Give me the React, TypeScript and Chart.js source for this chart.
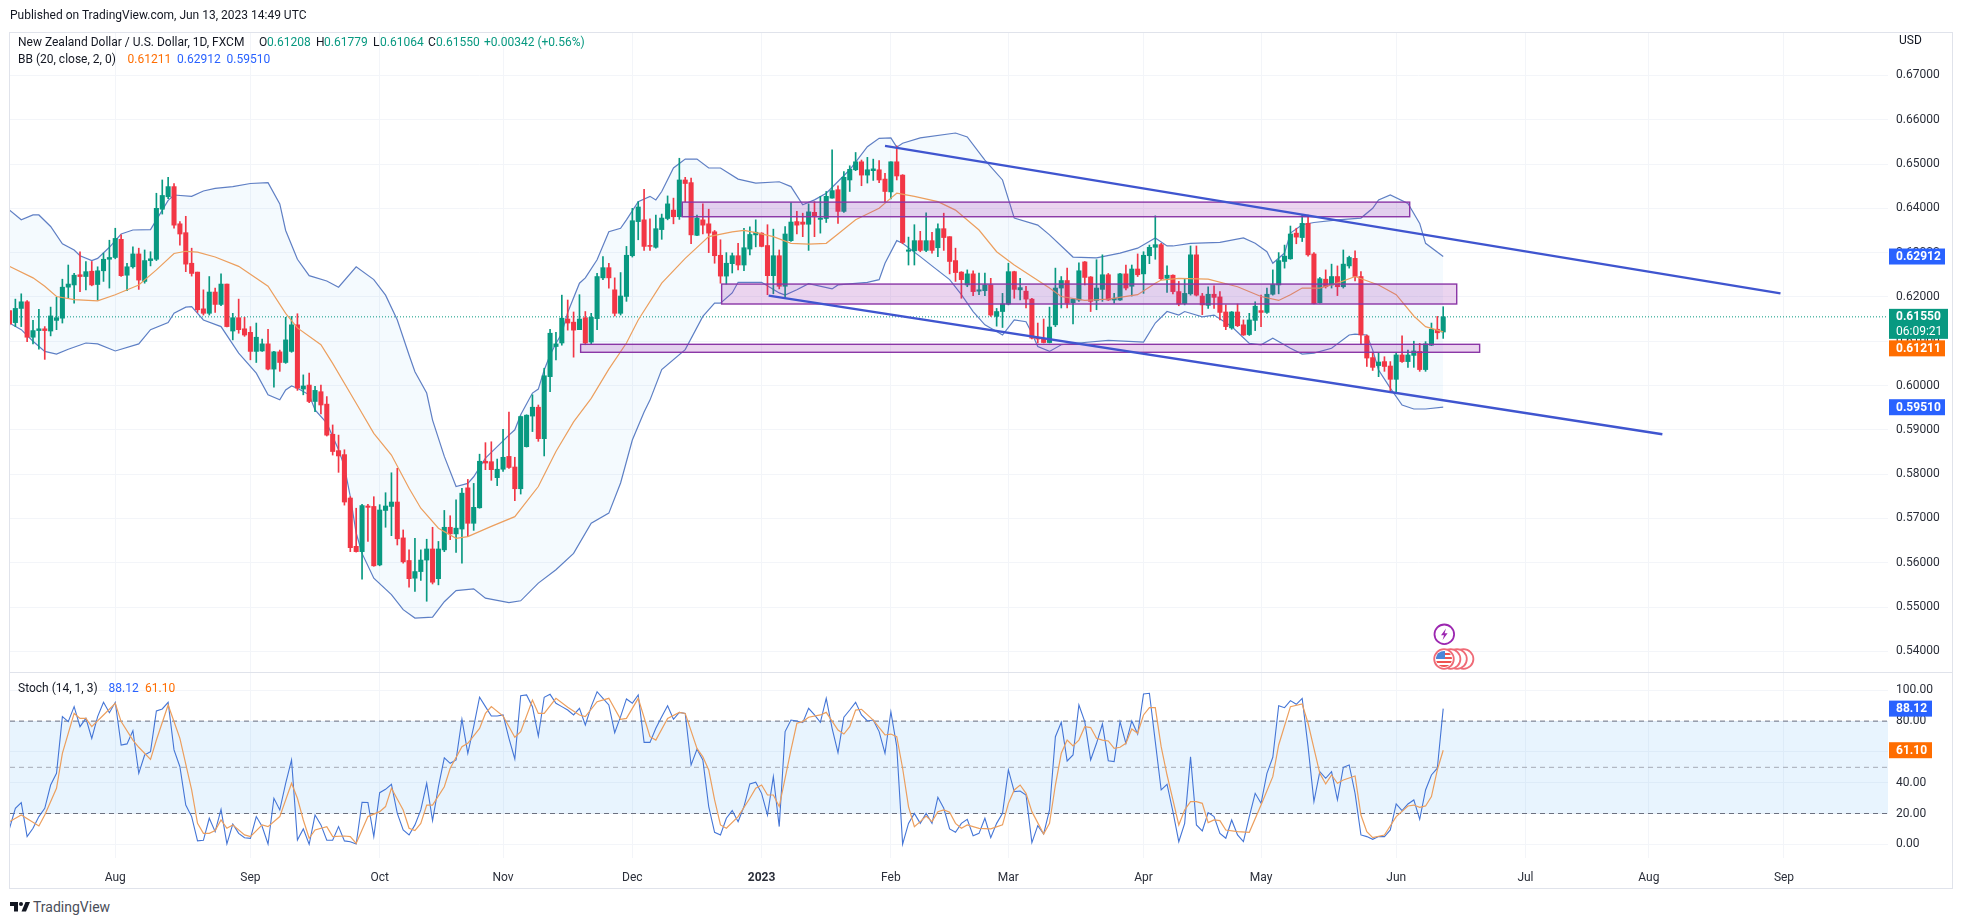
import React, { useEffect, useRef } from "react";
import { Chart, registerables } from "chart.js";

Chart.register(...registerables);

// ---------- price data (one bar per trading day, index 0 = Jul 2022, last = Jun 13 2023)
const opens = [
  0.6169,0.6142,0.6174,0.6189,0.6109,0.6124,0.6128,0.6123,0.6147,0.6152,
  0.6222,0.6227,0.6250,0.6246,0.6258,0.6228,0.6259,0.6285,0.6289,0.6330,
  0.6249,0.6268,0.6297,0.6235,0.6282,0.6285,0.6398,0.6426,0.6449,0.6365,
  0.6345,0.6276,0.6256,0.6173,0.6163,0.6211,0.6183,0.6229,0.6123,0.6153,
  0.6128,0.6120,0.6077,0.6078,0.6094,0.6037,0.6076,0.6052,0.6077,0.6137,
  0.5992,0.6001,0.5964,0.5986,0.5958,0.5890,0.5853,0.5844,0.5746,0.5637,
  0.5625,0.5728,0.5727,0.5595,0.5718,0.5727,0.5737,0.5656,0.5605,0.5565,
  0.5580,0.5606,0.5631,0.5564,0.5629,0.5680,0.5665,0.5676,0.5769,0.5689,
  0.5724,0.5829,0.5828,0.5792,0.5811,0.5840,0.5816,0.5767,0.5862,0.5931,
  0.5951,0.5880,0.6020,0.6088,0.6096,0.6150,0.6143,0.6126,0.6153,0.6098,
  0.6151,0.6243,0.6266,0.6216,0.6163,0.6201,0.6293,0.6370,0.6374,0.6316,
  0.6312,0.6352,0.6377,0.6396,0.6381,0.6464,0.6458,0.6339,0.6374,0.6365,
  0.6347,0.6294,0.6247,0.6275,0.6293,0.6272,0.6308,0.6340,0.6344,0.6316,
  0.6248,0.6293,0.6224,0.6327,0.6370,0.6369,0.6364,0.6391,0.6375,0.6377,
  0.6423,0.6442,0.6393,0.6464,0.6487,0.6505,0.6475,0.6485,0.6487,0.6466,
  0.6437,0.6505,0.6475,0.6303,0.6304,0.6327,0.6305,0.6327,0.6311,0.6354,
  0.6336,0.6282,0.6256,0.6227,0.6252,0.6213,0.6214,0.6227,0.6156,0.6167,
  0.6184,0.6257,0.6216,0.6213,0.6195,0.6107,0.6106,0.6097,0.6137,0.6220,
  0.6237,0.6187,0.6193,0.6279,0.6245,0.6192,0.6217,0.6250,0.6193,0.6193,
  0.6252,0.6224,0.6263,0.6252,0.6293,0.6312,0.6318,0.6242,0.6249,0.6212,
  0.6185,0.6207,0.6295,0.6202,0.6181,0.6206,0.6200,0.6166,0.6130,0.6166,
  0.6137,0.6115,0.6147,0.6169,0.6165,0.6206,0.6227,0.6280,0.6286,0.6344,
  0.6334,0.6366,0.6297,0.6187,0.6240,0.6227,0.6246,0.6223,0.6270,0.6287,
  0.6246,0.6112,0.6063,0.6045,0.6054,0.6044,0.6014,0.6069,0.6054,0.6068,
  0.6077,0.6036,0.6091,0.6127,0.61208,
];
const highs = [
  0.6169,0.6195,0.6207,0.6192,0.6147,0.6172,0.6133,0.6177,0.6199,0.6240,
  0.6272,0.6253,0.6302,0.6280,0.6280,0.6268,0.6299,0.6328,0.6355,0.6340,
  0.6276,0.6313,0.6310,0.6306,0.6302,0.6434,0.6464,0.6470,0.6456,0.6370,
  0.6382,0.6310,0.6256,0.6216,0.6246,0.6220,0.6252,0.6229,0.6163,0.6195,
  0.6154,0.6133,0.6141,0.6105,0.6127,0.6077,0.6080,0.6154,0.6156,0.6162,
  0.6024,0.6028,0.5998,0.6001,0.5975,0.5911,0.5888,0.5855,0.5749,0.5723,
  0.5732,0.5732,0.5749,0.5731,0.5758,0.5803,0.5813,0.5674,0.5629,0.5655,
  0.5629,0.5653,0.5680,0.5648,0.5718,0.5706,0.5742,0.5768,0.5788,0.5779,
  0.5845,0.5871,0.5873,0.5834,0.5901,0.5940,0.5838,0.5931,0.5934,0.5979,
  0.5956,0.6039,0.6127,0.6120,0.6204,0.6193,0.6166,0.6205,0.6167,0.6163,
  0.6253,0.6291,0.6276,0.6243,0.6255,0.6314,0.6400,0.6415,0.6443,0.6376,
  0.6385,0.6387,0.6428,0.6423,0.6513,0.6470,0.6468,0.6385,0.6410,0.6398,
  0.6350,0.6329,0.6300,0.6299,0.6321,0.6355,0.6358,0.6374,0.6345,0.6363,
  0.6353,0.6306,0.6359,0.6413,0.6393,0.6389,0.6410,0.6415,0.6427,0.6438,
  0.6532,0.6451,0.6483,0.6496,0.6526,0.6509,0.6515,0.6511,0.6508,0.6479,
  0.6505,0.6541,0.6476,0.6335,0.6363,0.6348,0.6390,0.6346,0.6365,0.6389,
  0.6336,0.6310,0.6257,0.6261,0.6259,0.6254,0.6254,0.6242,0.6174,0.6208,
  0.6276,0.6258,0.6242,0.6224,0.6197,0.6141,0.6150,0.6177,0.6265,0.6246,
  0.6265,0.6197,0.6277,0.6280,0.6246,0.6284,0.6295,0.6253,0.6208,0.6253,
  0.6272,0.6272,0.6297,0.6302,0.6317,0.6383,0.6321,0.6270,0.6250,0.6235,
  0.6242,0.6315,0.6315,0.6208,0.6223,0.6225,0.6212,0.6182,0.6167,0.6184,
  0.6148,0.6163,0.6189,0.6204,0.6220,0.6261,0.6300,0.6317,0.6360,0.6355,
  0.6385,0.6385,0.6300,0.6244,0.6261,0.6274,0.6270,0.6306,0.6292,0.6304,
  0.6257,0.6114,0.6073,0.6073,0.6065,0.6054,0.6074,0.6112,0.6080,0.6100,
  0.6095,0.6099,0.6141,0.6156,0.61779,
];
const lows = [
  0.6137,0.6133,0.6133,0.6099,0.6094,0.6082,0.6059,0.6112,0.6126,0.6141,
  0.6197,0.6186,0.6212,0.6216,0.6225,0.6193,0.6235,0.6220,0.6286,0.6246,
  0.6214,0.6265,0.6217,0.6231,0.6270,0.6282,0.6387,0.6422,0.6355,0.6317,
  0.6257,0.6247,0.6165,0.6159,0.6159,0.6165,0.6180,0.6132,0.6103,0.6118,
  0.6111,0.6058,0.6052,0.6077,0.6035,0.5996,0.6032,0.6050,0.6075,0.5989,
  0.5979,0.5961,0.5941,0.5936,0.5886,0.5843,0.5804,0.5730,0.5625,0.5624,
  0.5563,0.5648,0.5592,0.5593,0.5680,0.5661,0.5640,0.5599,0.5545,0.5535,
  0.5560,0.5513,0.5552,0.5550,0.5625,0.5652,0.5623,0.5599,0.5659,0.5673,
  0.5723,0.5810,0.5786,0.5774,0.5806,0.5813,0.5740,0.5755,0.5861,0.5896,
  0.5874,0.5841,0.5986,0.6058,0.6091,0.6125,0.6064,0.6126,0.6092,0.6094,
  0.6126,0.6239,0.6220,0.6157,0.6159,0.6190,0.6290,0.6329,0.6305,0.6305,
  0.6310,0.6330,0.6374,0.6365,0.6375,0.6415,0.6320,0.6338,0.6342,0.6300,
  0.6276,0.6231,0.6229,0.6254,0.6261,0.6259,0.6295,0.6313,0.6313,0.6205,
  0.6207,0.6218,0.6199,0.6325,0.6342,0.6336,0.6305,0.6336,0.6344,0.6368,
  0.6423,0.6366,0.6391,0.6438,0.6485,0.6451,0.6457,0.6463,0.6458,0.6415,
  0.6421,0.6464,0.6320,0.6272,0.6272,0.6302,0.6302,0.6299,0.6291,0.6305,
  0.6252,0.6235,0.6197,0.6223,0.6203,0.6205,0.6203,0.6156,0.6134,0.6131,
  0.6182,0.6197,0.6193,0.6175,0.6105,0.6096,0.6096,0.6096,0.6133,0.6175,
  0.6175,0.6139,0.6190,0.6227,0.6167,0.6171,0.6190,0.6192,0.6186,0.6192,
  0.6216,0.6202,0.6246,0.6208,0.6275,0.6285,0.6239,0.6210,0.6207,0.6180,
  0.6182,0.6204,0.6202,0.6160,0.6174,0.6174,0.6148,0.6126,0.6127,0.6133,
  0.6113,0.6113,0.6124,0.6133,0.6163,0.6204,0.6207,0.6265,0.6285,0.6320,
  0.6325,0.6292,0.6184,0.6186,0.6220,0.6220,0.6203,0.6220,0.6265,0.6236,
  0.6094,0.6043,0.6034,0.6020,0.6032,0.5986,0.5986,0.6052,0.6041,0.6041,
  0.6032,0.6032,0.6090,0.6105,0.61064,
];
const closes = [
  0.6139,0.6174,0.6189,0.6109,0.6124,0.6128,0.6124,0.6157,0.6153,0.6222,
  0.6229,0.6249,0.6246,0.6257,0.6227,0.6259,0.6285,0.6289,0.6332,0.6248,
  0.6268,0.6297,0.6238,0.6282,0.6286,0.6400,0.6429,0.6449,0.6362,0.6342,
  0.6274,0.6253,0.6171,0.6163,0.6211,0.6183,0.6229,0.6133,0.6153,0.6126,
  0.6114,0.6077,0.6109,0.6094,0.6037,0.6076,0.6052,0.6103,0.6137,0.5994,
  0.5999,0.5964,0.5989,0.5956,0.5888,0.5851,0.5841,0.5737,0.5634,0.5625,
  0.5729,0.5725,0.5593,0.5719,0.5728,0.5737,0.5654,0.5602,0.5564,0.5580,
  0.5606,0.5631,0.5556,0.5631,0.5680,0.5665,0.5678,0.5757,0.5689,0.5725,
  0.5829,0.5825,0.5810,0.5811,0.5838,0.5815,0.5767,0.5930,0.5933,0.5951,
  0.5880,0.6022,0.6118,0.6094,0.6152,0.6141,0.6125,0.6150,0.6096,0.6154,
  0.6246,0.6266,0.6243,0.6163,0.6202,0.6294,0.6372,0.6403,0.6314,0.6314,
  0.6354,0.6378,0.6410,0.6381,0.6464,0.6456,0.6340,0.6378,0.6362,0.6344,
  0.6293,0.6247,0.6276,0.6293,0.6272,0.6311,0.6341,0.6346,0.6314,0.6248,
  0.6293,0.6224,0.6342,0.6369,0.6362,0.6364,0.6392,0.6381,0.6378,0.6427,
  0.6440,0.6393,0.6470,0.6488,0.6505,0.6475,0.6487,0.6489,0.6464,0.6438,
  0.6505,0.6473,0.6323,0.6306,0.6327,0.6305,0.6327,0.6305,0.6354,0.6334,
  0.6280,0.6255,0.6239,0.6252,0.6212,0.6216,0.6227,0.6159,0.6167,0.6184,
  0.6257,0.6217,0.6221,0.6195,0.6107,0.6105,0.6097,0.6132,0.6220,0.6237,
  0.6186,0.6195,0.6259,0.6244,0.6190,0.6220,0.6250,0.6193,0.6197,0.6252,
  0.6220,0.6263,0.6250,0.6294,0.6312,0.6318,0.6241,0.6249,0.6212,0.6184,
  0.6208,0.6295,0.6204,0.6182,0.6206,0.6199,0.6165,0.6133,0.6166,0.6135,
  0.6114,0.6148,0.6179,0.6165,0.6206,0.6228,0.6282,0.6292,0.6342,0.6335,
  0.6366,0.6295,0.6185,0.6241,0.6223,0.6246,0.6223,0.6274,0.6289,0.6246,
  0.6114,0.6062,0.6041,0.6053,0.6043,0.6014,0.6069,0.6054,0.6069,0.6078,
  0.6036,0.6094,0.6127,0.6119,0.61550,
];

// ---------- Bollinger Bands: [bar index, value]
const bbUpper = [
  [0,.6396],[2,.6374],[4,.6385],[5,.6385],[7,.6359],[9,.6320],[11,.6306],[12,.6293],[14,.6282],[15,.6287],
  [17,.6312],[19,.6342],[21,.6351],[24,.6352],[25,.6374],[26,.6396],[27,.6418],[28,.6430],[31,.6427],[33,.6439],
  [35,.6445],[38,.6449],[41,.6456],[44,.6458],[46,.6410],[47,.6350],[49,.6285],[51,.6248],[54,.6236],[56,.6222],
  [59,.6268],[62,.6239],[64,.6204],[66,.6148],[68,.6069],[69,.6031],[71,.5983],[72,.5922],[74,.5840],[76,.5772],
  [78,.5779],[79,.5794],[81,.5836],[83,.5862],[85,.5888],[86,.5900],[87,.5934],[89,.5983],[90,.5992],[91,.6035],
  [92,.6069],[93,.6095],[94,.6118],[95,.6165],[97,.6231],[98,.6243],[100,.6284],[102,.6347],[104,.6355],[105,.6374],
  [107,.6415],[109,.6427],[110,.6419],[111,.6438],[113,.6491],[115,.6511],[117,.6511],[119,.6491],[121,.6491],[124,.6466],
  [127,.6457],[131,.6460],[133,.6449],[135,.6408],[137,.6419],[139,.6434],[143,.6487],[146,.6539],[148,.6558],[150,.6559],
  [151,.6538],[152,.6547],[155,.6559],[161,.6570],[163,.6561],[166,.6509],[169,.6464],[171,.6378],[175,.6362],[177,.6340],
  [181,.6290],[185,.6288],[189,.6299],[192,.6310],[195,.6333],[197,.6315],[198,.6315],[201,.6321],[206,.6323],[210,.6333],
  [212,.6321],[214,.6302],[215,.6276],[217,.6299],[218,.6344],[220,.6363],[222,.6368],[226,.6374],[230,.6378],[232,.6400],
  [233,.6419],[235,.6430],[238,.6411],[240,.6366],[241,.6321],[244,.62912],
];
const bbBasis = [
  [0,.6269],[4,.6243],[6,.6224],[8,.6201],[11,.6194],[15,.6191],[18,.6205],[22,.6227],[25,.6261],[28,.6298],
  [30,.6303],[32,.6301],[35,.6290],[39,.6269],[44,.6224],[47,.6163],[49,.6130],[53,.6092],[55,.6050],[59,.5960],
  [62,.5892],[65,.5843],[68,.5768],[70,.5723],[73,.5678],[76,.5655],[78,.5659],[82,.5682],[86,.5704],[90,.5772],
  [93,.5851],[96,.5918],[99,.5971],[102,.6037],[105,.6096],[107,.6148],[111,.6231],[115,.6287],[119,.6336],[123,.6347],
  [125,.6350],[127,.6345],[130,.6336],[133,.6321],[136,.6319],[139,.6321],[141,.6342],[144,.6374],[148,.6400],[150,.6423],
  [151,.6434],[154,.6427],[158,.6415],[161,.6396],[165,.6351],[168,.6302],[171,.6272],[174,.6246],[177,.6220],[179,.6201],
  [183,.6192],[187,.6195],[192,.6205],[195,.6231],[196,.6238],[199,.6242],[204,.6240],[209,.6223],[213,.6201],[216,.6192],
  [218,.6205],[220,.6220],[223,.6220],[226,.6231],[229,.6246],[233,.6227],[236,.6205],[239,.6157],[241,.6133],[244,.61211],
];
const bbLower = [
  [0,.6141],[2,.6126],[4,.6100],[6,.6077],[8,.6071],[10,.6082],[13,.6096],[15,.6094],[18,.6078],[22,.6094],
  [24,.6126],[27,.6142],[28,.6163],[30,.6177],[31,.6178],[33,.6148],[36,.6133],[39,.6073],[42,.6028],[44,.5979],
  [46,.5968],[47,.5990],[48,.5999],[49,.5994],[51,.5979],[52,.5945],[54,.5915],[56,.5855],[57,.5817],[58,.5749],
  [59,.5667],[60,.5621],[62,.5565],[65,.5528],[67,.5494],[69,.5475],[72,.5477],[74,.5512],[76,.5537],[79,.5541],
  [81,.5520],[85,.5510],[87,.5514],[90,.5554],[93,.5584],[96,.5621],[99,.5689],[102,.5712],[104,.5780],[106,.5877],
  [108,.5940],[109,.5967],[111,.6036],[115,.6081],[118,.6156],[120,.6186],[121,.6186],[123,.6209],[124,.6233],[128,.6233],
  [131,.6209],[132,.6204],[134,.6216],[136,.6230],[140,.6218],[141,.6227],[146,.6233],[148,.6239],[149,.6276],[151,.6327],
  [152,.6321],[155,.6291],[157,.6270],[160,.6239],[162,.6205],[164,.6167],[166,.6137],[168,.6122],[169,.6114],[171,.6148],
  [173,.6144],[174,.6118],[175,.6088],[177,.6077],[179,.6092],[182,.6096],[187,.6102],[193,.6098],[195,.6141],[197,.6167],
  [199,.6159],[200,.6167],[203,.6155],[205,.6159],[208,.6133],[211,.6095],[213,.6092],[215,.6107],[218,.6084],[220,.6071],
  [222,.6073],[225,.6084],[228,.6114],[229,.6116],[231,.6114],[232,.6080],[233,.6035],[235,.5994],[237,.5956],[239,.5947],
  [241,.5947],[244,.59510],
];

// ---------- Stochastic
const stochK = [
  10.4,23.4,27.1,5.0,10.4,18.0,23.4,38.5,46.1,82.9,79.7,89.4,76.4,81.8,68.8,82.9,92.2,85.5,92.2,64.5,
  65.2,73.8,46.1,58.0,60.2,86.6,87.9,92.2,61.3,50.4,25.5,18.0,2.2,2.6,16.9,8.2,22.7,0.3,13.2,7.1,
  4.3,3.9,18.0,11.5,0.2,29.9,22.3,39.6,54.8,2.8,10.0,0.0,19.0,12.6,2.6,2.6,11.5,2.2,1.7,0.2,
  27.3,27.1,5.0,33.5,35.7,39.0,20.1,9.3,6.1,12.6,22.3,39.6,15.4,37.4,56.1,52.6,54.8,81.2,59.1,76.4,
  95.5,89.4,83.3,83.3,84.0,68.8,55.4,96.5,97.0,89.4,70.3,95.5,97.4,91.6,89.4,87.2,84.0,88.3,77.5,89.4,
  99.1,94.8,90.5,72.5,82.9,94.4,91.6,97.0,66.2,66.2,75.3,82.9,90.0,81.2,85.7,85.0,51.5,61.7,54.8,24.5,
  7.8,6.1,16.9,21.9,14.7,24.5,39.2,40.3,33.1,19.0,43.9,11.5,73.2,80.7,80.1,79.0,88.3,84.0,79.2,94.8,
  75.3,59.5,82.5,87.2,92.2,84.0,80.1,80.7,73.2,59.1,86.1,63.4,0.1,13.6,20.1,13.6,20.1,13.6,30.5,23.4,
  10.0,7.8,13.6,16.2,5.6,7.1,16.9,4.3,13.6,20.1,48.3,34.2,34.6,32.0,1.1,12.1,6.7,22.3,69.9,79.2,
  54.1,58.0,90.5,79.7,54.8,65.6,78.1,54.3,53.7,79.7,65.6,80.1,71.6,97.6,98.1,66.7,35.3,39.0,21.2,1.7,
  13.6,56.9,12.6,8.7,20.6,18.0,7.1,3.9,15.8,6.1,1.7,18.0,33.1,26.6,46.1,56.5,90.0,88.7,93.3,90.9,
  94.8,63.4,27.7,47.2,42.9,47.2,28.8,50.0,51.5,33.1,6.1,5.0,3.2,5.0,5.0,9.3,26.2,21.9,26.2,28.8,
  16.2,35.3,45.0,49.4,88.12,
];
const stochD = [
  [0,14.7],[2,19],[5,11.9],[6,19],[8,36.4],[9,59.1],[11,85],[12,81.8],[13,81.8],[14,76.4],[16,84],[18,91.6],[19,79.7],
  [21,67.7],[22,63],[24,55.2],[25,67.7],[27,90.5],[29,68.8],[31,35.3],[32,13.6],[33,7.1],[34,7.1],[35,8.9],[36,15.8],
  [37,10.4],[38,12.6],[40,6.1],[41,5],[43,12.6],[44,11.5],[46,18],[48,39.6],[49,29.9],[50,15.8],[51,3.9],[52,9.3],
  [54,11.5],[55,5],[57,5.4],[58,5],[59,0.6],[61,18],[63,21.2],[64,24.5],[65,36.4],[67,22.3],[68,10.4],[69,8.9],[70,13.6],
  [71,25.5],[72,25.5],[74,37.4],[75,49.4],[77,63.4],[78,65.6],[80,75.3],[81,85],[82,89.4],[84,83.3],[86,69.5],[87,73.2],
  [89,93.7],[90,85],[91,85],[93,94.8],[95,89],[97,84],[98,82.9],[100,92.6],[102,94.8],[104,81.2],[105,81.8],[107,94.8],
  [109,69.9],[110,67.7],[112,81.8],[114,85.7],[115,85],[117,62.3],[118,56.9],[119,48.3],[120,28.8],[121,12.6],[122,10.4],
  [124,18],[126,29.9],[127,36.4],[128,38.5],[129,32],[130,32],[131,24.5],[133,61.3],[134,78.6],[135,79.7],[136,82.5],
  [138,84],[139,85.7],[141,74.2],[142,71.6],[143,76.4],[144,87.2],[145,87.7],[147,80.7],[149,71],[150,71.6],[151,69.9],
  [152,49.4],[153,24.5],[154,11.5],[155,14.7],[156,18.4],[157,14.7],[158,21.2],[159,22.3],[160,20.8],[161,13.6],[162,10.4],
  [163,12.6],[165,10.4],[167,10],[169,12.6],[170,26.6],[171,35.3],[172,38.5],[173,33.1],[174,21.2],[176,6.7],[177,13.6],
  [178,38.5],[179,59.1],[180,67.7],[181,63.9],[182,67.7],[183,76.4],[184,75.8],[185,68.8],[186,67.7],[187,67.1],[188,62.3],
  [189,63],[190,65.6],[191,74.9],[192,72.1],[193,84],[194,88.7],[195,88.7],[196,63.4],[197,45],[198,28.8],[199,12.6],
  [200,22.3],[201,27.7],[202,27.7],[203,26.6],[204,14.1],[205,15.8],[206,15.4],[207,9.3],[209,8.2],[211,7.8],[213,25.5],
  [215,43.9],[216,64.5],[218,89.4],[220,91.1],[221,78.6],[222,62.3],[223,46.1],[224,39.2],[225,45],[226,39.6],[227,41.8],
  [229,44.4],[230,19],[231,8.2],[232,4.3],[234,6],[236,18],[238,24.9],[239,25.5],[240,24],[241,24.9],[242,31],[243,48.3],[244,61.1],
];

// ---------- drawings: [startBar, endBar, price(s)]
const zoneA = { from: 114.5, to: 238.3, top: 0.6414, bottom: 0.6381 };
const zoneB = { from: 121.2, to: 246.3, top: 0.6229, bottom: 0.6184 };
const zoneC = { from: 97.2, to: 250.2, top: 0.6093, bottom: 0.6075 };
const zones = [zoneA, zoneB, zoneC];
const trendUpper = [[149, 0.6541], [301.4, 0.6208]];
const trendLower = [[129.2, 0.6203], [281.3, 0.5890]];

// ---------- axes
const priceTicks = [0.54,0.55,0.56,0.57,0.58,0.59,0.6,0.61,0.62,0.63,0.64,0.65,0.66,0.67];
const stochTicks = [0,20,40,60,80,100];
const monthBars = [18,41,63,84,106,128,150,170,193,213,236,258,279,302];
const monthNames = ["Aug","Sep","Oct","Nov","Dec","2023","Feb","Mar","Apr","May","Jun","Jul","Aug","Sep"];
const stochLevels = { upper: 80, middle: 50, lower: 20 };

const X_MIN = 0.085;
const X_MAX = 319.7;
const UP = "#089981";
const DOWN = "#f23645";
const FONT = "Roboto";
const GRID = "#f3f5f9";
const TICK_COLOR = "#2a2e39";
const BB_LINE = "#5f7fc4";
const MID_LINE = "#ec9f5e";

const lastClose = closes[closes.length - 1];
const pairs = (list: number[][]) => list.map(([x, y]) => ({ x, y }));

const grid = { color: GRID, drawTicks: false, lineWidth: 1 };

function xScale(showLabels: boolean) {
  return {
    type: "linear",
    min: X_MIN,
    max: X_MAX,
    offset: false,
    grid: { ...grid, offset: false },
    border: { display: false },
    afterBuildTicks: (s: any) => {
      s.ticks = monthBars.map((value) => ({ value }));
    },
    afterFit: (s: any) => {
      s.height = showLabels ? 30 : 0;
      s.paddingLeft = 0;
      s.paddingRight = 0;
    },
    ticks: {
      display: showLabels,
      autoSkip: false,
      maxRotation: 0,
      padding: 13,
      color: TICK_COLOR,
      font: (c: any) => ({
        family: FONT,
        size: 12,
        weight: c.tick && monthNames[monthBars.indexOf(c.tick.value)] === "2023" ? "bold" : "normal",
      }),
      callback: (v: number) => monthNames[monthBars.indexOf(v)] ?? "",
    },
  };
}

function yScale(min: number, max: number, tickList: number[], digits: number) {
  return {
    position: "right",
    min,
    max,
    grid,
    border: { display: false },
    afterBuildTicks: (s: any) => {
      s.ticks = tickList.map((value) => ({ value }));
    },
    afterFit: (s: any) => {
      s.width = 64;
      s.paddingTop = 0;
      s.paddingBottom = 0;
    },
    ticks: {
      autoSkip: false,
      padding: 8,
      color: TICK_COLOR,
      font: { family: FONT, size: 12 },
      callback: (v: number) => Number(v).toFixed(digits),
    },
  };
}

function tag(ctx: any, scale: any, value: number, text: string, bg: string, w: number, sub?: string, shift = 0) {
  const y = scale.getPixelForValue(value) + shift;
  const left = scale.left + 1;
  ctx.save();
  ctx.fillStyle = bg;
  ctx.fillRect(left, y - 8, w, sub ? 30 : 16);
  ctx.fillStyle = "#ffffff";
  ctx.font = `bold 12px ${FONT}`;
  ctx.textBaseline = "middle";
  ctx.textAlign = "left";
  ctx.fillText(text, left + 7, y + 0.5);
  if (sub) {
    ctx.font = `12px ${FONT}`;
    ctx.fillText(sub, left + 7, y + 15);
  }
  ctx.restore();
}

const zonePlugin = {
  id: "zones",
  beforeDatasetDraw(chart: any, args: any) {
    if (chart.data.datasets[args.index].label !== "trend lower") return;
    const { ctx, scales } = chart;
    ctx.save();
    for (const z of zones) {
      const l = scales.x.getPixelForValue(z.from);
      const r = scales.x.getPixelForValue(z.to);
      const t = scales.y.getPixelForValue(z.top);
      const b = scales.y.getPixelForValue(z.bottom);
      ctx.fillStyle = "rgba(156,39,176,0.2)";
      ctx.fillRect(l, t, r - l, b - t);
      ctx.strokeStyle = "#8a36a6";
      ctx.lineWidth = 1.4;
      ctx.strokeRect(l, t, r - l, b - t);
    }
    ctx.restore();
  },
};

const priceTagPlugin = {
  id: "priceTags",
  afterDraw(chart: any) {
    const { ctx, scales } = chart;
    tag(ctx, scales.y, bbUpper[bbUpper.length - 1][1], "0.62912", "#2962ff", 56);
    tag(ctx, scales.y, bbLower[bbLower.length - 1][1], "0.59510", "#2962ff", 56);
    tag(ctx, scales.y, lastClose, "0.61550", UP, 59, "06:09:21");
    // the orange tag is pushed below the two-line green one, as TradingView does
    tag(ctx, scales.y, lastClose, "0.61211", "#ff6d00", 56, undefined, 31.5);
  },
};

const stochPlugin = {
  id: "stochBand",
  beforeDatasetsDraw(chart: any) {
    const { ctx, chartArea: a, scales } = chart;
    const top = scales.y.getPixelForValue(stochLevels.upper);
    const mid = scales.y.getPixelForValue(stochLevels.middle);
    const bottom = scales.y.getPixelForValue(stochLevels.lower);
    ctx.save();
    ctx.fillStyle = "rgba(33,150,243,0.1)";
    ctx.fillRect(a.left, top, a.right - a.left, bottom - top);
    ctx.lineWidth = 1;
    ctx.setLineDash([5, 4]);
    for (const [y, color] of [[top, "#6b7080"], [mid, "#a6a9b4"], [bottom, "#6b7080"]] as any) {
      ctx.strokeStyle = color;
      ctx.beginPath();
      ctx.moveTo(a.left, y);
      ctx.lineTo(a.right, y);
      ctx.stroke();
    }
    ctx.restore();
  },
  afterDraw(chart: any) {
    const { ctx, scales } = chart;
    tag(ctx, scales.y, stochK[stochK.length - 1], "88.12", "#2962ff", 43);
    tag(ctx, scales.y, stochD[stochD.length - 1][1], "61.10", "#ff6d00", 43);
  },
};

const lineBase = { type: "line", pointRadius: 0, tension: 0, fill: false };

function label(text: string, left: number, top: number, color = "#131722", extra: any = {}) {
  return (
    <span
      key={`${text}-${left}-${top}`}
      style={{
        position: "absolute",
        left,
        top: top - 8,
        lineHeight: "16px",
        fontFamily: FONT,
        fontSize: 12,
        whiteSpace: "nowrap",
        color,
        ...extra,
      }}
    >
      {text}
    </span>
  );
}

export default function App() {
  const priceRef = useRef<HTMLCanvasElement>(null);
  const stochRef = useRef<HTMLCanvasElement>(null);

  useEffect(() => {
    const colors = closes.map((c, i) => (c >= opens[i] ? UP : DOWN));
    const bars = closes.map((_, i) => i);
    const price = new Chart(priceRef.current as any, {
      type: "bar",
      data: {
        datasets: [
          { ...lineBase, label: "trend upper", order: 0, data: pairs(trendUpper), borderColor: "#3f55cf", borderWidth: 2.4 },
          { ...lineBase, label: "trend lower", order: 1, data: pairs(trendLower), borderColor: "#3f55cf", borderWidth: 2.4 },
          { ...lineBase, label: "basis", order: 2, data: pairs(bbBasis), borderColor: MID_LINE, borderWidth: 1.2 },
          {
            label: "body", order: 3, grouped: false, barThickness: 4.4, minBarLength: 1, borderSkipped: false,
            data: bars.map((i) => ({ x: i, y: [opens[i], closes[i]] })), backgroundColor: colors,
          },
          {
            label: "wick", order: 4, grouped: false, barThickness: 1, borderSkipped: false,
            data: bars.map((i) => ({ x: i, y: [lows[i], highs[i]] })), backgroundColor: colors,
          },
          {
            ...lineBase, label: "upper", order: 5, data: pairs(bbUpper), borderColor: BB_LINE, borderWidth: 1.2,
            fill: "+1", backgroundColor: "rgba(33,150,243,0.05)",
          },
          { ...lineBase, label: "lower", order: 5, data: pairs(bbLower), borderColor: BB_LINE, borderWidth: 1.2 },
          {
            ...lineBase, label: "last", order: 6,
            data: [{ x: X_MIN, y: lastClose }, { x: X_MAX, y: lastClose }],
            borderColor: UP, borderWidth: 1, borderDash: [1, 2],
          },
        ],
      } as any,
      options: {
        responsive: false,
        animation: false,
        events: [],
        devicePixelRatio: 1,
        layout: { autoPadding: false, padding: { left: 10, top: 32, right: 11, bottom: 0 } },
        plugins: { legend: { display: false }, tooltip: { enabled: false } },
        scales: { x: xScale(false), y: yScale(0.53533, 0.6798, priceTicks, 5) },
      } as any,
      plugins: [zonePlugin, priceTagPlugin],
    });

    const stoch = new Chart(stochRef.current as any, {
      type: "line",
      data: {
        datasets: [
          { ...lineBase, label: "%D", order: 0, data: pairs(stochD), borderColor: MID_LINE, borderWidth: 1.2 },
          { ...lineBase, label: "%K", order: 1, data: bars.map((i) => ({ x: i, y: stochK[i] })), borderColor: "#4475d6", borderWidth: 1.1 },
        ],
      } as any,
      options: {
        responsive: false,
        animation: false,
        events: [],
        devicePixelRatio: 1,
        layout: { autoPadding: false, padding: { left: 10, top: 0, right: 11, bottom: 0 } },
        plugins: { legend: { display: false }, tooltip: { enabled: false } },
        scales: { x: xScale(true), y: yScale(-8.9, 111.9, stochTicks, 2) },
      } as any,
      plugins: [stochPlugin],
    });

    return () => {
      price.destroy();
      stoch.destroy();
    };
  }, []);

  const flagCenters = [1463.6, 1457, 1450.6, 1444];

  return (
    <div style={{ position: "absolute", left: 0, top: 0, width: 1963, height: 924, overflow: "hidden", background: "#fff" }}>
      <canvas ref={priceRef} width={1963} height={672} style={{ position: "absolute", left: 0, top: 0 }} />
      <canvas ref={stochRef} width={1963} height={216} style={{ position: "absolute", left: 0, top: 672 }} />

      <div style={{ position: "absolute", left: 9, top: 32, width: 1942, height: 855, border: "1px solid #e0e3eb" }} />
      <div style={{ position: "absolute", left: 10, top: 672, width: 1942, height: 1, background: "#e0e3eb" }} />

      {label("Published on TradingView.com, Jun 13, 2023 14:49 UTC", 10, 15)}
      {label("New Zealand Dollar / U.S. Dollar, 1D, FXCM", 18, 42)}
      {label("O", 259, 42)}{label("0.61208", 267, 42, UP)}
      {label("H", 316, 42)}{label("0.61779", 324, 42, UP)}
      {label("L", 373, 42)}{label("0.61064", 380, 42, UP)}
      {label("C", 428, 42)}{label("0.61550", 436, 42, UP)}
      {label("+0.00342 (+0.56%)", 484, 42, UP)}
      {label("BB (20, close, 2, 0)", 18, 59)}
      {label("0.61211", 127.5, 59, "#ff6d00")}
      {label("0.62912", 177, 59, "#2962ff")}
      {label("0.59510", 226.5, 59, "#2962ff")}
      {label("USD", 1899, 40)}
      {label("Stoch (14, 1, 3)", 18, 688)}
      {label("88.12", 108.5, 688, "#2962ff")}
      {label("61.10", 145, 688, "#ff6d00")}
      {label("TradingView", 33, 907, "#4a4e59", { fontSize: 14 })}

      <svg style={{ position: "absolute", left: 10, top: 902 }} width={20} height={10} viewBox="0 0 20 10">
        <path d="M0 0H8V9.5H4V4H0Z M15.5 0H20L16 9.5H11.5Z" fill="#131722" />
        <circle cx={11} cy={2} r={2} fill="#131722" />
      </svg>

      <svg style={{ position: "absolute", left: 1425, top: 620 }} width={60} height={60} viewBox="1425 620 60 60">
        <circle cx={1444.3} cy={634.3} r={9.8} fill="#fff" stroke="#9c27b0" strokeWidth={1.8} />
        <path d="M1446 628.5L1441 635.3H1444L1442.6 640L1447.6 633.2H1444.6Z" fill="#9c27b0" />
        <defs>
          <clipPath id="flagClip"><circle cx={1444} cy={659} r={8} /></clipPath>
        </defs>
        {flagCenters.map((c) => (
          <circle key={c} cx={c} cy={659} r={9.8} fill="#fff" stroke="#ef6a76" strokeWidth={1.8} />
        ))}
        <g clipPath="url(#flagClip)">
          <rect x={1436} y={651} width={16} height={16} fill="#fff" />
          <rect x={1436} y={653} width={16} height={2} fill="#ef5350" />
          <rect x={1436} y={657} width={16} height={2} fill="#ef5350" />
          <rect x={1436} y={661} width={16} height={2} fill="#ef5350" />
          <rect x={1436} y={665} width={16} height={2} fill="#ef5350" />
          <rect x={1436} y={651} width={9} height={8} fill="#4a86d8" />
        </g>
      </svg>
    </div>
  );
}
